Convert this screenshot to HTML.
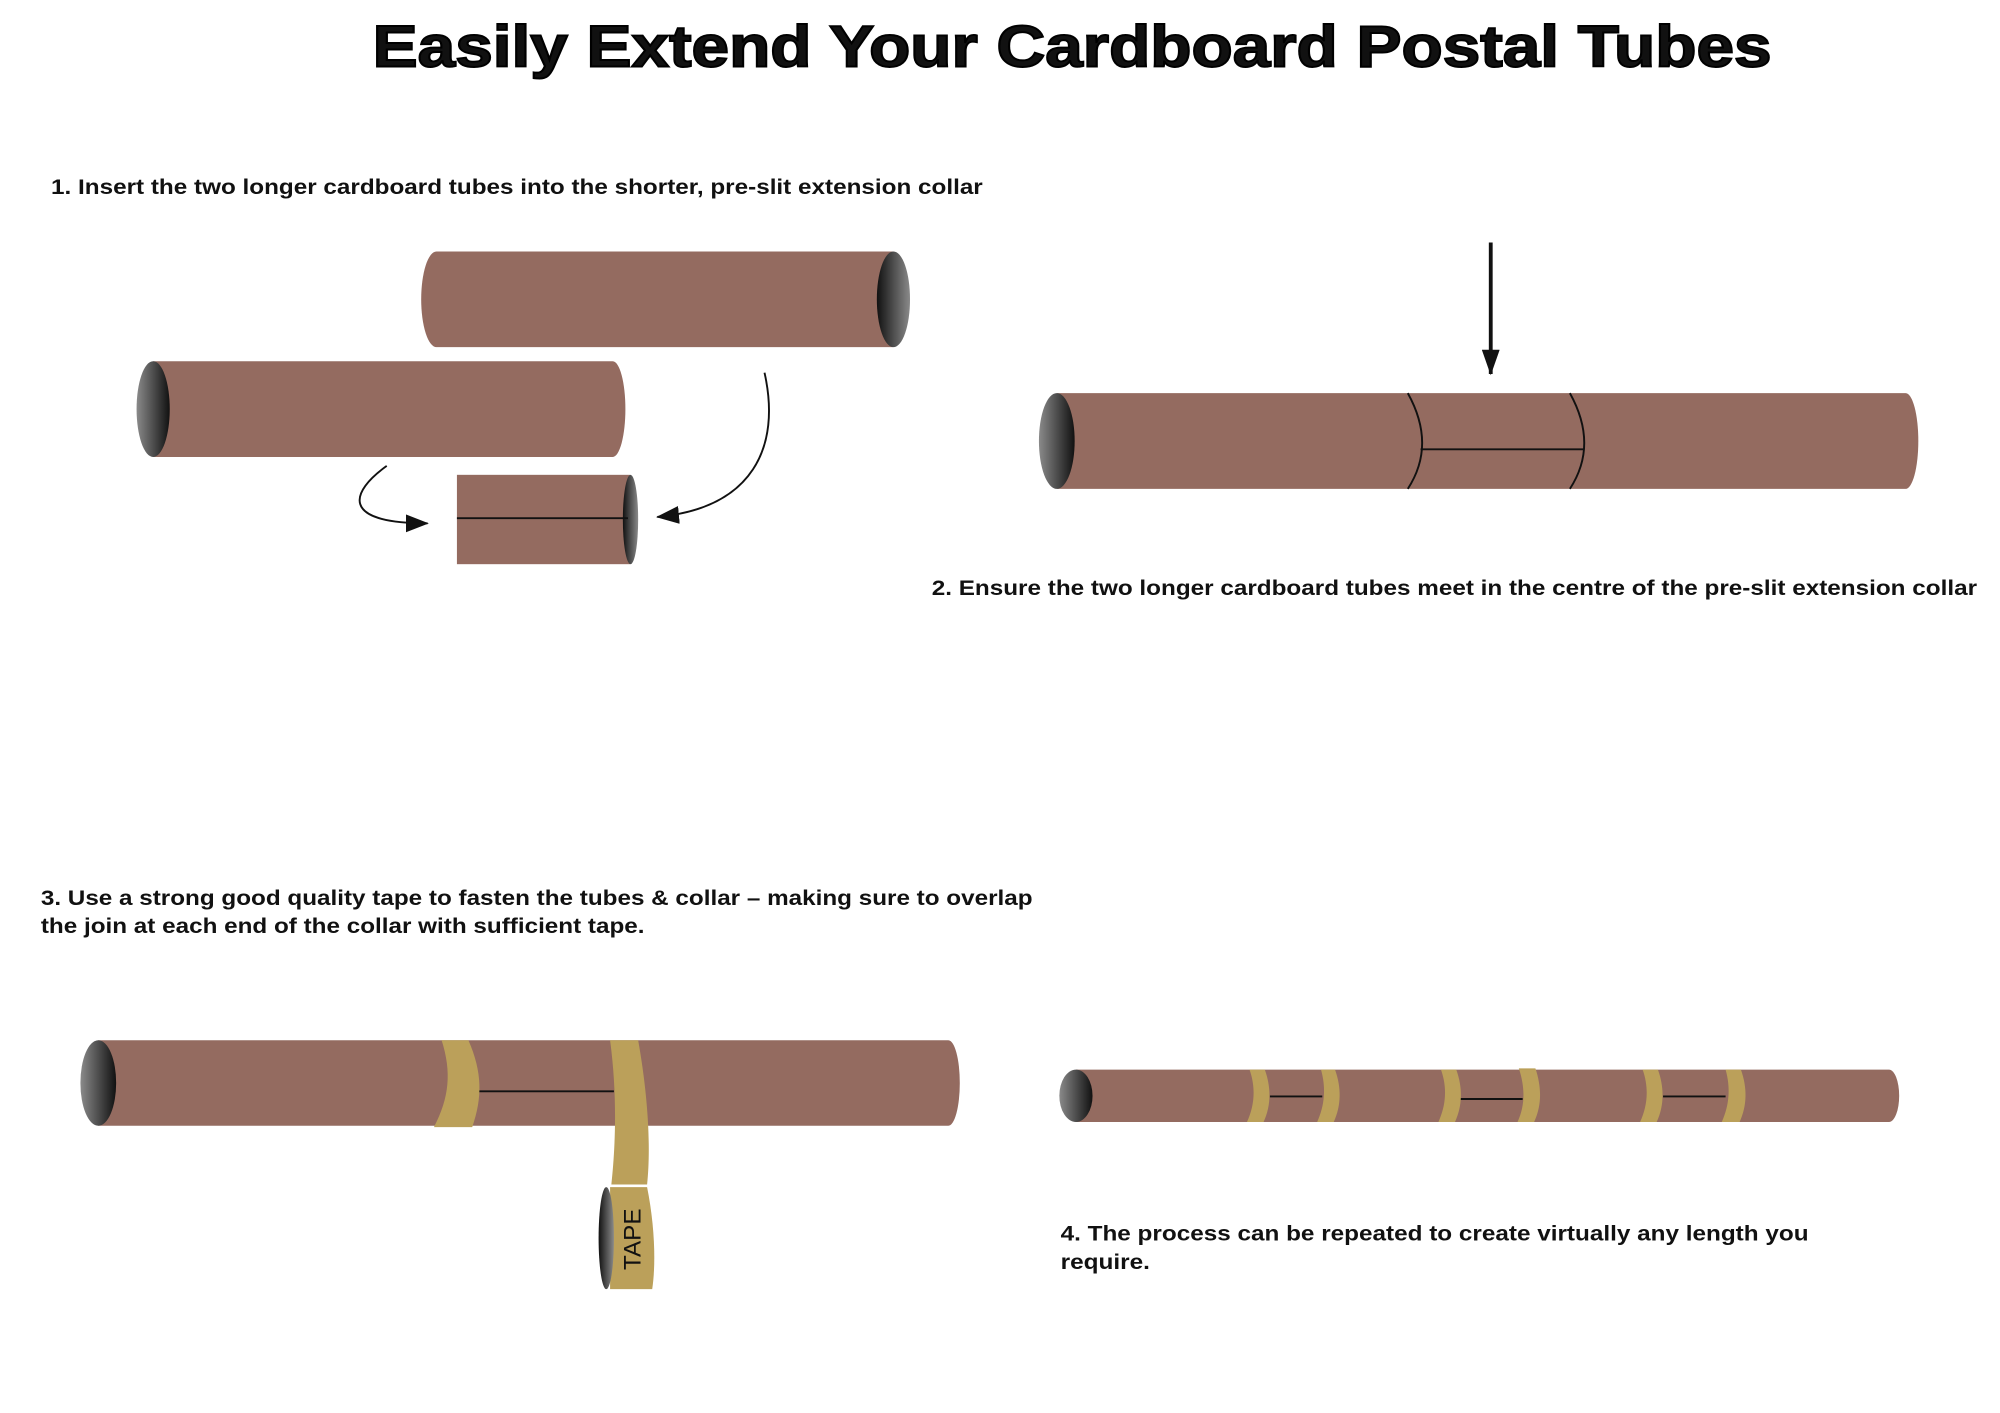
<!DOCTYPE html>
<html><head><meta charset="utf-8"><style>html,body{margin:0;padding:0;background:#fff}svg{display:block}</style></head>
<body>
<svg width="2000" height="1413" viewBox="0 0 1567 1107" preserveAspectRatio="none" xmlns="http://www.w3.org/2000/svg">
<defs>
<linearGradient id="dl" x1="0" y1="0" x2="1" y2="0"><stop offset="0" stop-color="#8a8a8a"/><stop offset="1" stop-color="#111"/></linearGradient>
<linearGradient id="dr" x1="0" y1="0" x2="1" y2="0"><stop offset="0" stop-color="#111"/><stop offset="1" stop-color="#8a8a8a"/></linearGradient>
<marker id="ah" markerWidth="18" markerHeight="14" refX="17" refY="7" orient="auto" markerUnits="userSpaceOnUse"><path d="M0,0 L18,7 L0,14 Z" fill="#111"/></marker>
<marker id="ah2" markerWidth="20" markerHeight="14" refX="19" refY="7" orient="auto" markerUnits="userSpaceOnUse"><path d="M0,0 L20,7 L0,14 Z" fill="#111"/></marker>
</defs>
<g font-family="Liberation Sans, Arial, sans-serif" font-weight="bold" fill="#111">
<text x="292" y="52" font-size="46" textLength="1096" lengthAdjust="spacingAndGlyphs" font-weight="900" stroke="#000" stroke-width="1.5">Easily Extend Your Cardboard Postal Tubes</text>
<text x="40" y="152" font-size="17" textLength="730" lengthAdjust="spacingAndGlyphs">1. Insert the two longer cardboard tubes into the shorter, pre-slit extension collar</text>
<text x="730" y="466" font-size="17" textLength="819" lengthAdjust="spacingAndGlyphs">2. Ensure the two longer cardboard tubes meet in the centre of the pre-slit extension collar</text>
<text x="32" y="709" font-size="17" textLength="777" lengthAdjust="spacingAndGlyphs">3. Use a strong good quality tape to fasten the tubes &amp; collar – making sure to overlap</text>
<text x="32" y="731" font-size="17" textLength="473" lengthAdjust="spacingAndGlyphs">the join at each end of the collar with sufficient tape.</text>
<text x="831" y="972" font-size="17" textLength="586" lengthAdjust="spacingAndGlyphs">4. The process can be repeated to create virtually any length you</text>
<text x="831" y="994" font-size="17" textLength="70" lengthAdjust="spacingAndGlyphs">require.</text>
</g>
<g fill="#946b60">
<path d="M342,197 H700 V272 H342 A12,37.5 0 0 1 342,197 Z"/>
<ellipse cx="700" cy="234.5" rx="13" ry="37.5" fill="url(#dr)"/>
<path d="M120,283 H480 A10,37.5 0 0 1 480,358 H120 Z"/>
<ellipse cx="120" cy="320.5" rx="13" ry="37.5" fill="url(#dl)"/>
<rect x="358" y="372" width="136" height="70"/>
<ellipse cx="494" cy="407" rx="6" ry="35" fill="url(#dr)"/>
<path d="M828,308 H1493 A10,37.5 0 0 1 1493,383 H828 Z"/>
<ellipse cx="828" cy="345.5" rx="14" ry="37.5" fill="url(#dl)"/>
<path d="M77,815 H743 A9,33.5 0 0 1 743,882 H77 Z"/>
<ellipse cx="77" cy="848.5" rx="14" ry="33.5" fill="url(#dl)"/>
<path d="M843,838 H1480 A8,20.5 0 0 1 1480,879 H843 Z"/>
<ellipse cx="843" cy="858.5" rx="13" ry="20.5" fill="url(#dl)"/>
</g>
<g stroke="#111" fill="none" stroke-width="1.5">
<line x1="358" y1="406" x2="492" y2="406"/>
<path d="M303,365 C275,385 265,410 335,410" marker-end="url(#ah)"/>
<path d="M599,292 C612,350 590,398 515,405" marker-end="url(#ah)"/>
<line x1="1168" y1="190" x2="1168" y2="293" stroke-width="3" marker-end="url(#ah2)"/>
<path d="M1103,308 C1118,335 1118,360 1103,383"/>
<path d="M1230,308 C1245,335 1245,360 1230,383"/>
<line x1="1113" y1="352" x2="1241" y2="352"/>
<line x1="374" y1="855" x2="481" y2="855"/>
<line x1="995" y1="859" x2="1036" y2="859"/>
<line x1="1144" y1="861" x2="1193" y2="861"/>
<line x1="1303" y1="859" x2="1352" y2="859"/>
</g>
<g fill="#bba05a">
<path d="M346,815 H367 C378,840 378,860 370,883 H340 C352,860 354,840 346,815 Z"/>
<path d="M478,815 H500 C508,860 510,900 507,928 H479 C482,900 484,860 478,815 Z"/>
<path d="M478,930 H507 C513,960 514,990 511,1010 H478 Z"/>
<path d="M979,838 H991 C996,852 996,866 990,879 H977 C983,866 984,852 979,838 Z"/>
<path d="M1035,838 H1046 C1051,852 1051,866 1045,879 H1032 C1038,866 1039,852 1035,838 Z"/>
<path d="M1129,838 H1141 C1146,852 1146,866 1140,879 H1127 C1133,866 1134,852 1129,838 Z"/>
<path d="M1190,837 H1203 C1208,852 1208,866 1202,879 H1189 C1195,866 1195,852 1190,837 Z"/>
<path d="M1287,838 H1299 C1304,852 1304,866 1298,879 H1285 C1291,866 1292,852 1287,838 Z"/>
<path d="M1352,838 H1364 C1369,852 1369,866 1363,879 H1349 C1355,866 1356,852 1352,838 Z"/>
</g>
<ellipse cx="475" cy="970" rx="6" ry="40" fill="url(#dr)"/>
<text x="0" y="0" font-family="Liberation Sans, Arial, sans-serif" font-size="19" fill="#111" transform="translate(502,995) rotate(-90)">TAPE</text>
</svg>
</body></html>
